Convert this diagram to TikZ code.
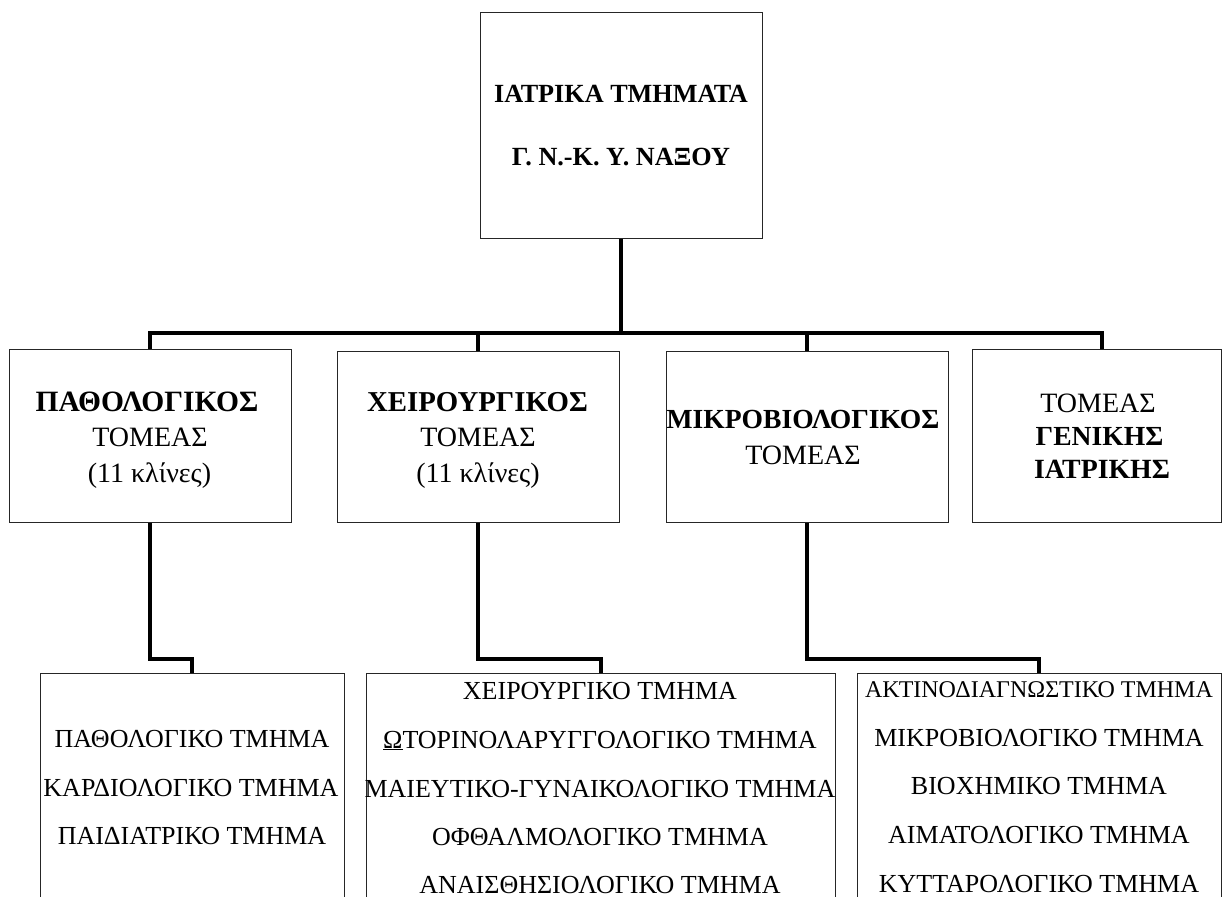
\documentclass[tikz,border=0pt]{standalone}
\usepackage{fontspec}
\setmainfont{Liberation Serif}
\begin{document}
\begin{tikzpicture}[x=1pt,y=-1pt,
  box/.style={draw=black!85, line width=1pt, rectangle, inner sep=0pt},
  conn/.style={draw=black, line width=4pt, line join=miter},
  lbl/.style={inner sep=0pt, anchor=base, text=black},
  fa/.style={font=\fontsize{26.2}{31}\selectfont\bfseries},
  fb/.style={font=\fontsize{28}{33}\selectfont},
  fbb/.style={font=\fontsize{#1}{33}\selectfont\bfseries},
  fc/.style={font=\fontsize{26}{31}\selectfont},
  fcs/.style={font=\fontsize{24}{29}\selectfont}]
\useasboundingbox (0,0) rectangle (1222,896);
\clip (0,0) rectangle (1222,896);
% boxes
\node[box, minimum width=282pt, minimum height=225pt] (top) at (621,125.5) {};
\node[box, minimum width=282pt, minimum height=173pt] (b1) at (150,435.5) {};
\node[box, minimum width=282pt, minimum height=171pt] (b2) at (478,436.5) {};
\node[box, minimum width=282pt, minimum height=171pt] (b3) at (807,436.5) {};
\node[box, minimum width=249pt, minimum height=173pt] (b4) at (1096.5,435.5) {};
\node[box, minimum width=304pt, minimum height=277pt] (b5) at (192,811.5) {};
\node[box, minimum width=469pt, minimum height=277pt] (b6) at (600.5,811.5) {};
\node[box, minimum width=364pt, minimum height=277pt] (b7) at (1039,811.5) {};
% helper coordinates
\coordinate (busy) at (0,333);
\coordinate (lvl) at (0,659);
\coordinate (d4) at ([xshift=5.5pt]b4.north);
% connectors
\draw[conn] (top.south) -- (top.south |- busy);
\draw[conn] (b1.north) -- (b1.north |- busy) -- (d4 |- busy) -- (d4);
\draw[conn] (b2.north) -- (b2.north |- busy);
\draw[conn] (b3.north) -- (b3.north |- busy);
\draw[conn] (b1.south) -- (b1.south |- lvl) -- (b5.north |- lvl) -- (b5.north);
\draw[conn] (b2.south) -- (b2.south |- lvl) -- (b6.north |- lvl) -- (b6.north);
\draw[conn] (b3.south) -- (b3.south |- lvl) -- (b7.north |- lvl) -- (b7.north);
% top box text
\node[lbl, fa] (t1) at (621,103) {ΙΑΤΡΙΚΑ ΤΜΗΜΑΤΑ};
\node[lbl, fa] (t2) at (621,165) {Γ. Ν.-Κ. Υ. ΝΑΞΟΥ};
% row 2
\node[lbl, fbb=29.5] (a1) at (147,411) {ΠΑΘΟΛΟΓΙΚΟΣ};
\node[lbl, fb] (a2) at (150,446.5) {ΤΟΜΕΑΣ};
\node[lbl, fb] (a3) at (149.5,482) {(11 κλίνες)};
\node[lbl, fbb=28.8] (c1) at (477.5,411) {ΧΕΙΡΟΥΡΓΙΚΟΣ};
\node[lbl, fb] (c2) at (478,446.5) {ΤΟΜΕΑΣ};
\node[lbl, fb] (c3) at (478,482) {(11 κλίνες)};
\node[lbl, fbb=27.6] (m1) at (803,428) {ΜΙΚΡΟΒΙΟΛΟΓΙΚΟΣ};
\node[lbl, fb] (m2) at (803,464) {ΤΟΜΕΑΣ};
\node[lbl, fb] (g1) at (1098,412) {ΤΟΜΕΑΣ};
\node[lbl, fbb=27.6] (g2) at (1099.5,445) {ΓΕΝΙΚΗΣ};
\node[lbl, fbb=27.8] (g3) at (1102,478) {ΙΑΤΡΙΚΗΣ};
% row 3
\node[lbl, fc] (p1) at (192,747) {ΠΑΘΟΛΟΓΙΚΟ ΤΜΗΜΑ};
\node[lbl, fc] (p2) at (191,796) {ΚΑΡΔΙΟΛΟΓΙΚΟ ΤΜΗΜΑ};
\node[lbl, fc] (p3) at (192,844) {ΠΑΙΔΙΑΤΡΙΚΟ ΤΜΗΜΑ};
\node[lbl, fc] (s1) at (600,699) {ΧΕΙΡΟΥΡΓΙΚΟ ΤΜΗΜΑ};
\node[lbl, fc] (s2) at (600,748) {\underline{Ω}ΤΟΡΙΝΟΛΑΡΥΓΓΟΛΟΓΙΚΟ ΤΜΗΜΑ};
\node[lbl, fc] (s3) at (600,797) {ΜΑΙΕΥΤΙΚΟ-ΓΥΝΑΙΚΟΛΟΓΙΚΟ ΤΜΗΜΑ};
\node[lbl, fc] (s4) at (600,845) {ΟΦΘΑΛΜΟΛΟΓΙΚΟ ΤΜΗΜΑ};
\node[lbl, fc] (s5) at (600,893) {ΑΝΑΙΣΘΗΣΙΟΛΟΓΙΚΟ ΤΜΗΜΑ};
\node[lbl, fcs] (k1) at (1039,697) {ΑΚΤΙΝΟΔΙΑΓΝΩΣΤΙΚΟ ΤΜΗΜΑ};
\node[lbl, fc] (k2) at (1039,746) {ΜΙΚΡΟΒΙΟΛΟΓΙΚΟ ΤΜΗΜΑ};
\node[lbl, fc] (k3) at (1039,794) {ΒΙΟΧΗΜΙΚΟ ΤΜΗΜΑ};
\node[lbl, fc] (k4) at (1039,843) {ΑΙΜΑΤΟΛΟΓΙΚΟ ΤΜΗΜΑ};
\node[lbl, fc] (k5) at (1039,892) {ΚΥΤΤΑΡΟΛΟΓΙΚΟ ΤΜΗΜΑ};
\end{tikzpicture}
\end{document}
